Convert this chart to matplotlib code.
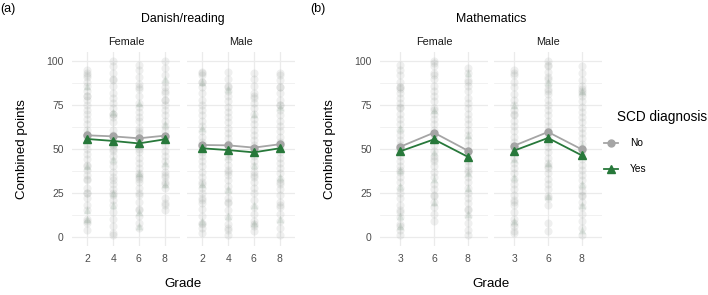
import matplotlib
matplotlib.use('Agg')
from matplotlib import pyplot as plt
from matplotlib.lines import Line2D
import numpy as np

plt.rcParams['font.family'] = ['Liberation Sans', 'DejaVu Sans']

# group means
danGrades = ['2', '4', '6', '8']
mathGrades = ['3', '6', '8']
danFemaleNo = [57.7, 57.1, 56.0, 57.5]
danFemaleYes = [55.6, 54.5, 53.1, 55.4]
danMaleNo = [52.2, 52.0, 50.7, 52.6]
danMaleYes = [50.3, 49.3, 48.0, 50.3]
mathFemaleNo = [51.2, 59.2, 49.0]
mathFemaleYes = [48.6, 55.4, 45.5]
mathMaleNo = [51.8, 59.6, 49.7]
mathMaleYes = [49.0, 56.2, 46.3]

# raw scores (estimated), one list per grade column
danFemaleRaw = [
    [95, 93, 92, 91, 88, 86, 83, 80, 80, 78, 75, 72, 70, 67, 64, 61, 58, 58, 56, 53, 50, 47, 44, 41, 40, 38, 35, 33, 32, 28, 25, 25, 22, 18, 15, 10, 9, 8, 4],
    [100, 97, 93, 90, 89, 86, 82, 79, 76, 73, 70, 70, 68, 65, 61, 58, 55, 52, 50, 49, 46, 43, 40, 37, 34, 32, 30, 27, 25, 24, 21, 18, 14, 10, 6, 2, 1],
    [98, 95, 91, 87, 85, 84, 80, 76, 74, 71, 68, 66, 62, 60, 59, 56, 53, 50, 48, 45, 42, 39, 36, 35, 34, 33, 31, 28, 25, 24, 20, 16, 15, 12, 8, 5],
    [100, 96, 92, 88, 85, 83, 82, 78, 78, 75, 72, 69, 66, 63, 60, 57, 55, 52, 49, 46, 43, 40, 37, 35, 34, 31, 30, 28, 22, 19, 18, 15],
]
danFemaleRawYes = [[86, 60, 40, 15, 10], [71, 53, 44, 25, 18], [76, 52, 36, 14, 6], [90, 64, 42, 30]]
danMaleRaw = [
    [94, 93, 92, 88, 88, 85, 82, 78, 75, 72, 69, 66, 63, 60, 57, 54, 51, 48, 46, 43, 40, 37, 34, 31, 30, 28, 25, 22, 21, 19, 16, 12, 8, 7, 5, 2],
    [94, 90, 86, 85, 83, 80, 77, 74, 71, 68, 65, 62, 59, 56, 53, 50, 47, 44, 41, 38, 37, 35, 32, 29, 26, 22, 20, 19, 15, 11, 7, 5, 4, 1],
    [93, 90, 86, 82, 80, 79, 76, 73, 70, 67, 64, 61, 58, 55, 52, 49, 46, 43, 40, 37, 35, 34, 31, 28, 25, 21, 17, 13, 9, 7, 6, 3],
    [93, 92, 89, 85, 85, 82, 78, 75, 75, 72, 69, 66, 63, 60, 57, 54, 51, 48, 45, 42, 39, 36, 33, 31, 30, 27, 24, 20, 18, 17, 13, 9, 5, 1],
]
danMaleRawYes = [[88, 62, 30, 9], [84, 46, 27, 12], [70, 41, 18, 8], [74, 52, 34, 10]]
mathFemaleRaw = [
    [98, 95, 92, 88, 85, 85, 84, 82, 79, 76, 74, 73, 70, 67, 64, 61, 58, 55, 52, 50, 49, 46, 43, 40, 38, 37, 34, 31, 28, 25, 22, 18, 15, 14, 11, 7, 6, 4, 1],
    [100, 99, 97, 93, 92, 90, 86, 83, 80, 77, 73, 72, 70, 67, 64, 61, 58, 55, 52, 49, 46, 44, 43, 40, 37, 34, 30, 27, 24, 23, 20, 17, 13, 9],
    [96, 93, 89, 88, 86, 83, 79, 76, 73, 70, 67, 64, 61, 58, 55, 52, 49, 46, 43, 40, 38, 37, 34, 31, 28, 25, 22, 19, 16, 15, 12, 8, 4, 1],
]
mathFemaleRawYes = [[62, 38, 29, 12, 6], [72, 48, 33, 20], [93, 58, 36, 28, 13]]
mathMaleRaw = [
    [95, 93, 92, 88, 85, 81, 78, 75, 72, 70, 69, 66, 63, 60, 57, 54, 51, 48, 45, 42, 39, 36, 33, 30, 27, 24, 21, 20, 18, 14, 10, 8, 6, 3, 2],
    [100, 98, 97, 94, 91, 90, 87, 84, 83, 81, 78, 75, 72, 69, 66, 63, 60, 57, 54, 51, 48, 45, 42, 40, 39, 36, 33, 30, 27, 23, 22, 18, 8, 3],
    [97, 93, 89, 86, 84, 83, 82, 80, 77, 74, 71, 68, 65, 62, 59, 56, 53, 50, 47, 44, 41, 38, 35, 32, 29, 26, 24, 23, 20, 17, 13, 9, 5, 1],
]
mathMaleRawYes = [[75, 44, 34, 9], [88, 42, 23], [83, 52, 30, 18, 4]]

grey = '#A5A5A5'
green = '#27783A'
gridc = '#EBEBEB'
textc = '#4D4D4D'

fig = plt.figure(figsize=(7.08, 2.95), dpi=100)
W, H = 708, 295
bottom = 1 - 245.5 / H
height = 193.3 / H


def panel(left, grades, raw, rawYes, meanNo, meanYes, strip, showY):
    ax = fig.add_axes([left / W, bottom, 108 / W, height])
    pos = np.arange(len(grades))
    for i in pos:
        ax.scatter(np.full(len(raw[i]), i), raw[i], s=34, color='#8E948F', alpha=0.14,
                   linewidths=0, zorder=1)
        ax.scatter(np.full(len(rawYes[i]), i), rawYes[i], s=30, marker='^', color='#6F9479',
                   alpha=0.16, linewidths=0, zorder=1)
    ax.plot(pos, meanNo, color=grey, lw=1.3, marker='o', ms=5, zorder=3)
    ax.plot(pos, meanYes, color=green, lw=1.3, marker='^', ms=6, zorder=4)
    ax.set_xlim(-0.6, len(grades) - 0.4)
    ax.set_ylim(-5, 105)
    ax.set_xticks(pos)
    ax.set_xticklabels(grades)
    ax.set_yticks([0, 25, 50, 75, 100])
    ax.set_yticks([12.5, 37.5, 62.5, 87.5], minor=True)
    ax.grid(True, which='major', color=gridc, lw=0.9, zorder=0)
    ax.grid(True, which='minor', axis='y', color=gridc, lw=0.5, zorder=0)
    ax.tick_params(which='both', length=0, labelsize=7.5, labelcolor=textc, pad=6)
    if not showY:
        ax.tick_params(axis='y', labelleft=False)
    for s in ax.spines.values():
        s.set_visible(False)
    ax.set_axisbelow(True)
    ax.set_title(strip, fontsize=7.8, color='#1A1A1A', pad=5)
    return ax


panel(72, danGrades, danFemaleRaw, danFemaleRawYes, danFemaleNo, danFemaleYes, 'Female', True)
panel(187, danGrades, danMaleRaw, danMaleRawYes, danMaleNo, danMaleYes, 'Male', False)
panel(380, mathGrades, mathFemaleRaw, mathFemaleRawYes, mathFemaleNo, mathFemaleYes, 'Female', True)
panel(494, mathGrades, mathMaleRaw, mathMaleRawYes, mathMaleNo, mathMaleYes, 'Male', False)

# titles and axis labels
fig.text(8 / W, 1 - 9 / H, '(a)', fontsize=9, va='center', ha='center')
fig.text(318 / W, 1 - 9 / H, '(b)', fontsize=9, va='center', ha='center')
fig.text(183 / W, 1 - 19 / H, 'Danish/reading', fontsize=8.9, va='center', ha='center')
fig.text(491 / W, 1 - 19 / H, 'Mathematics', fontsize=8.9, va='center', ha='center')
fig.text(183 / W, 1 - 284 / H, 'Grade', fontsize=9.6, va='center', ha='center')
fig.text(491 / W, 1 - 284 / H, 'Grade', fontsize=9.6, va='center', ha='center')
fig.text(22 / W, 1 - 149 / H, 'Combined points', fontsize=9.6, va='center', ha='center', rotation=90)
fig.text(330 / W, 1 - 149 / H, 'Combined points', fontsize=9.6, va='center', ha='center', rotation=90)

# legend
fig.text(617 / W, 1 - 117 / H, 'SCD diagnosis', fontsize=9.8, va='center', ha='left')
fig.add_artist(Line2D([604 / W, 618 / W], [1 - 143 / H, 1 - 143 / H], color=grey, lw=1.3))
fig.add_artist(Line2D([611 / W], [1 - 143 / H], color=grey, marker='o', ms=5))
fig.text(630 / W, 1 - 143 / H, 'No', fontsize=7.3, va='center', ha='left')
fig.add_artist(Line2D([604 / W, 618 / W], [1 - 169 / H, 1 - 169 / H], color=green, lw=1.3))
fig.add_artist(Line2D([611 / W], [1 - 169 / H], color=green, marker='^', ms=6))
fig.text(630 / W, 1 - 169 / H, 'Yes', fontsize=7.3, va='center', ha='left')

plt.savefig('out.png', dpi=100)
